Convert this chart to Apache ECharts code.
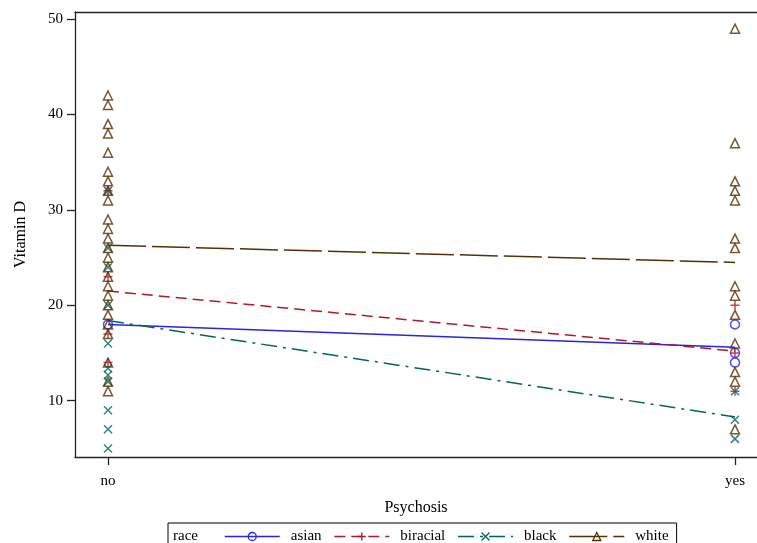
<!DOCTYPE html>
<html><head><meta charset="utf-8">
<script src="https://cdn.jsdelivr.net/npm/echarts@6/dist/echarts.min.js"></script>
<style>html,body{margin:0;padding:0;background:#fff}#c{width:757px;height:543px}</style>
</head><body><div id="c"></div>
<script>
// ---- data ----
const psychosisCats = ['no', 'yes'];
const yTicks = [10, 20, 30, 40, 50];
const races = ['asian', 'biracial', 'black', 'white'];

const asianNo = [18];
const asianYes = [18, 15, 14];
const biracialNo = [32, 23, 17, 14];
const biracialYes = [20, 15, 11];
const blackNo = [32, 26, 24, 20, 16, 13.4, 12.7, 12, 9, 7, 5];
const blackYes = [11, 8, 6];
const whiteNo = [42, 41, 39, 38, 36, 34, 33, 32, 31, 29, 28, 27, 26, 25, 24, 23, 22, 21, 20, 19, 18, 17, 14, 12, 11];
const whiteYes = [49, 37, 33, 32, 31, 27, 26, 22, 21, 19, 16, 13, 12, 7];

const asianMean = [18.0, 15.6];
const biracialMean = [21.5, 15.2];
const blackMean = [18.4, 8.3];
const whiteMean = [26.3, 24.5];

// ---- styles ----
const FONT = 'Liberation Serif';
const colors = ['#2A25D9', '#B2182B', '#01665E', '#543005'];
const symbols = [
  'circle',
  'path://M5,0L5,10M0,5L10,5',
  'path://M0,0L10,10M10,0L0,10',
  'triangle'
];
const symbolSizes = [9, 9, 8, 9];
const dashes = ['solid', [11, 6], [16, 6, 3, 6], [38, 6]];

const pointsNo = [asianNo, biracialNo, blackNo, whiteNo];
const pointsYes = [asianYes, biracialYes, blackYes, whiteYes];
const means = [asianMean, biracialMean, blackMean, whiteMean];

const series = [];
races.forEach((r, i) => {
  const itemStyle = { color: 'transparent', borderColor: colors[i], borderWidth: 1.5 };
  series.push({
    name: r, type: 'line',
    data: means[i].map((v, j) => [j, v]),
    symbol: symbols[i], symbolSize: symbolSizes[i], showSymbol: false,
    lineStyle: { color: colors[i], width: 1.5, type: dashes[i] },
    itemStyle: itemStyle,
    z: 2, silent: true
  });
});
races.forEach((r, i) => {
  const itemStyle = { color: 'transparent', borderColor: colors[i], borderWidth: 1.5 };
  series.push({
    name: r, type: 'scatter',
    data: pointsNo[i].map(v => [0, v]).concat(pointsYes[i].map(v => [1, v])),
    symbol: symbols[i], symbolSize: symbolSizes[i],
    itemStyle: itemStyle,
    z: 3, silent: true
  });
});

const axisLine = { show: true, onZero: false, lineStyle: { color: '#222', width: 1.3 } };
const labelStyle = { fontFamily: FONT, fontSize: 15, color: '#000' };

const chart = echarts.init(document.getElementById('c'), null, { renderer: 'canvas' });
chart.setOption({
  animation: false,
  backgroundColor: '#fff',
  title: {
    text: 'race', left: 168, top: 524, padding: [5, 5],
    textStyle: { fontFamily: FONT, fontSize: 15, fontWeight: 'normal', color: '#000' }
  },
  legend: {
    left: 168, top: 523,
    padding: [6, 8, 6, 56],
    borderColor: '#000', borderWidth: 1,
    itemWidth: 55, itemHeight: 10, itemGap: 12,
    selectedMode: false,
    textStyle: { fontFamily: FONT, fontSize: 15, color: '#000', padding: [0, 0, 0, 6] },
    itemStyle: { borderWidth: 1.3 },
    lineStyle: { width: 1.5 },
    data: races.map((r, i) => ({ name: r, lineStyle: { type: dashes[i] } }))
  },
  grid: { left: 75, right: -2, top: 12, bottom: 86, containLabel: false },
  xAxis: [{
    type: 'value', min: -0.0526, max: 1.0351,
    name: 'Psychosis', nameLocation: 'middle', nameGap: 43,
    nameTextStyle: { fontFamily: FONT, fontSize: 16, color: '#000' },
    axisLine: axisLine,
    axisTick: { show: true, length: 8, customValues: [0, 1], lineStyle: { color: '#222', width: 1.3 } },
    axisLabel: { customValues: [0, 1], margin: 17, formatter: v => psychosisCats[Math.round(v)], ...labelStyle },
    splitLine: { show: false }
  }, {
    type: 'value', position: 'top', min: -0.0526, max: 1.0351,
    axisLine: axisLine, axisTick: { show: false }, axisLabel: { show: false }, splitLine: { show: false }
  }],
  yAxis: {
    type: 'value', min: 4.1, max: 50.75,
    name: 'Vitamin D', nameLocation: 'middle', nameGap: 46,
    nameTextStyle: { fontFamily: FONT, fontSize: 16, color: '#000' },
    axisLine: axisLine,
    axisTick: { show: true, length: 8, customValues: yTicks, lineStyle: { color: '#222', width: 1.3 } },
    axisLabel: { customValues: yTicks, margin: 12, ...labelStyle },
    splitLine: { show: false }
  },
  series: series
});
</script>
</body></html>
